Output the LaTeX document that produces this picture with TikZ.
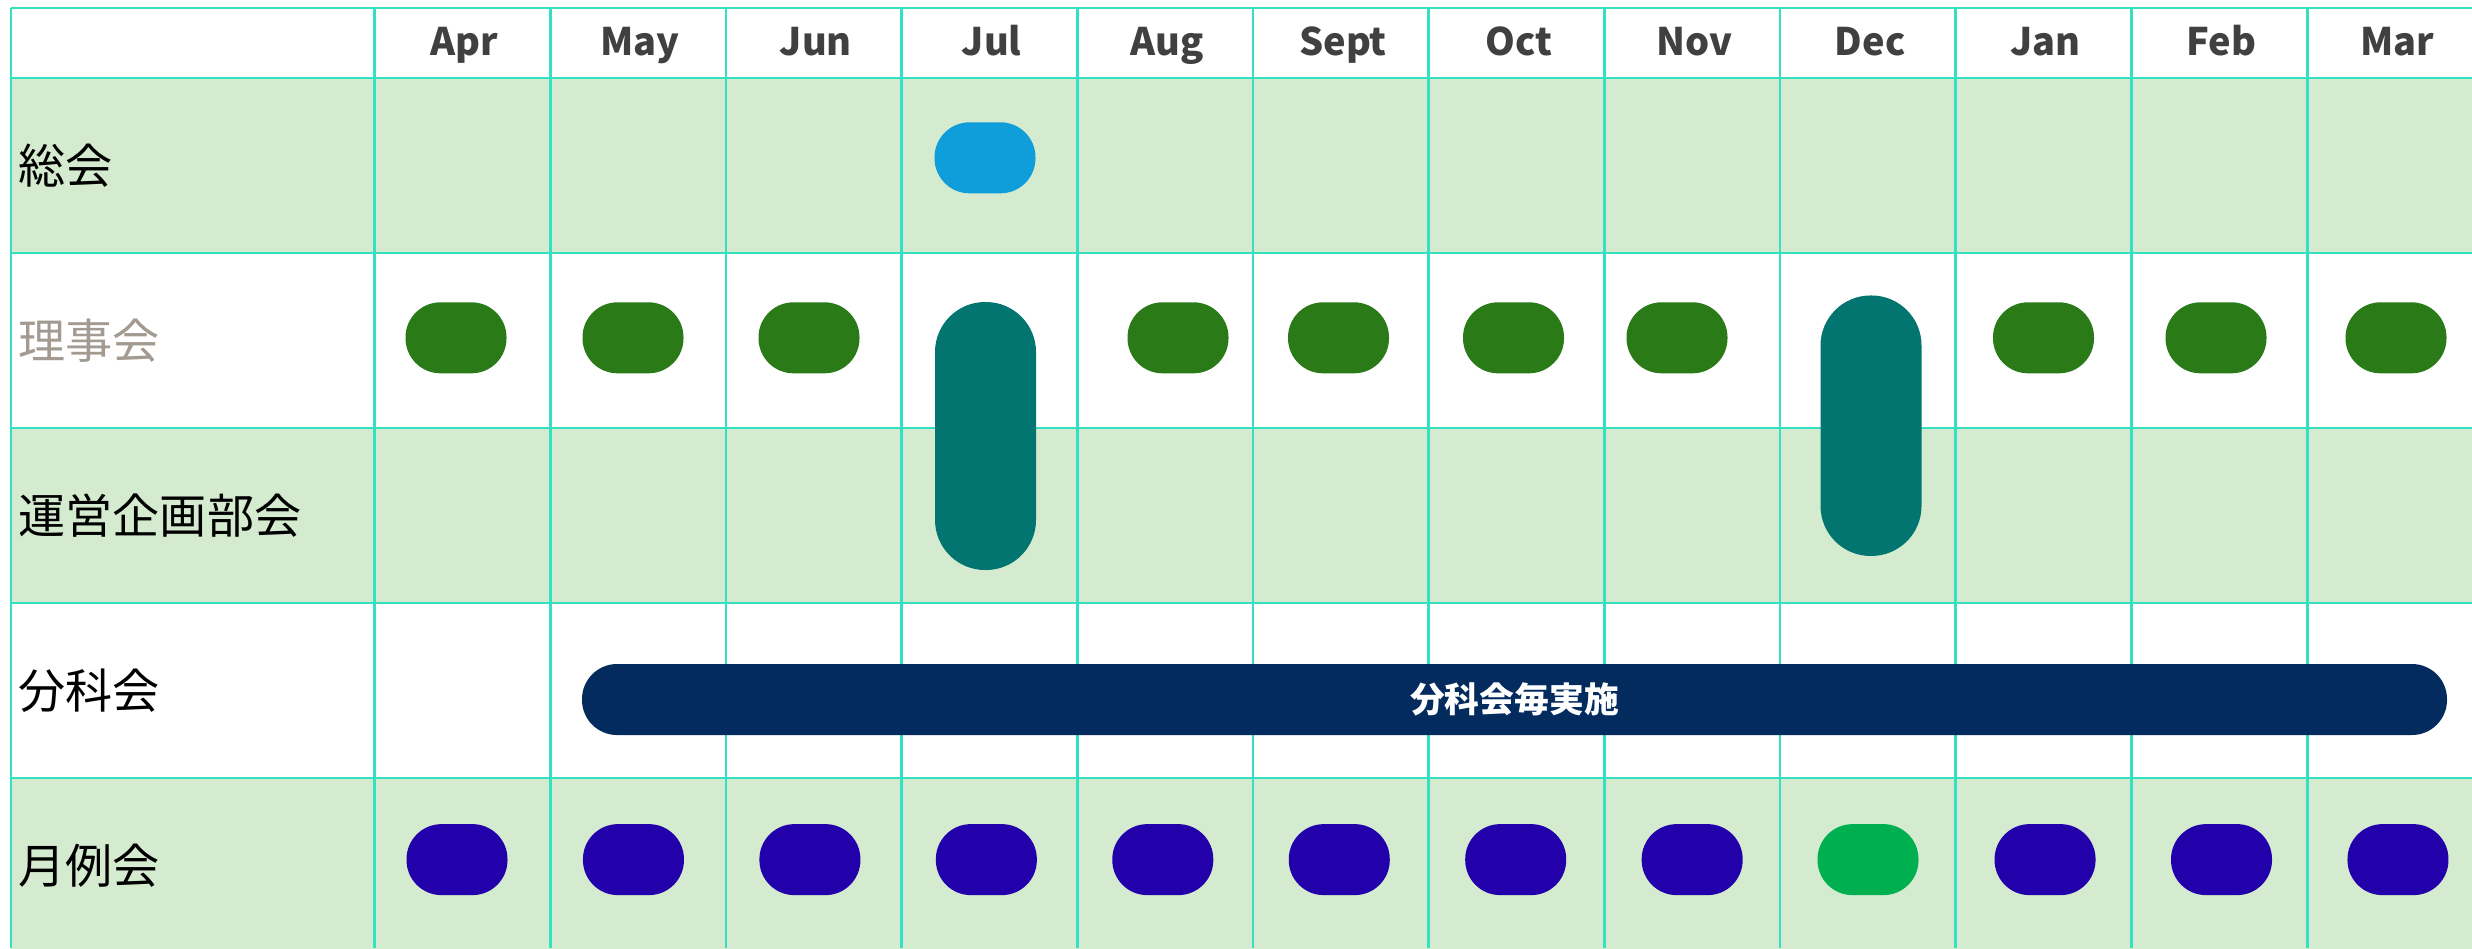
\documentclass[tikz,border=0pt]{standalone}
\usepackage{fontspec}
\setmainfont{Noto Sans CJK JP}
\definecolor{gridline}{HTML}{33E0C2}
\definecolor{rowgreen}{HTML}{D5EBD0}
\definecolor{monthgray}{HTML}{404040}
\definecolor{rijigray}{HTML}{A39A92}
\definecolor{sokaiblue}{HTML}{0F9ED9}
\definecolor{rijigreen}{HTML}{2A7A18}
\definecolor{uneiteal}{HTML}{037570}
\definecolor{bunkanavy}{HTML}{042B5E}
\definecolor{reikaiblue}{HTML}{2200AA}
\definecolor{reikaigreen}{HTML}{00AF50}
\begin{document}
\begin{tikzpicture}[x=0.1mm,y=-0.1mm,
  pill/.style={rounded corners=3.5mm,minimum width=10.1mm,minimum height=7.1mm,inner sep=0pt},
  tallpill/.style={rounded corners=5mm,minimum width=10.1mm,inner sep=0pt},
  rowlabel/.style={anchor=west,inner sep=0pt,font=\fontsize{13.4}{16}\selectfont},
  monthlabel/.style={anchor=base,inner sep=0pt,text=monthgray,font=\fontsize{10.8}{13}\selectfont\bfseries}]
\useasboundingbox (0,0) rectangle (2472,948);
\fill[white] (0,0) rectangle (2472,948);
\foreach \Y in {78,428,778}
\fill[rowgreen] (11,\Y) rectangle (2472,\Y+175);
\foreach \Y in {8,78,253,428,603,778}
\draw[gridline,line width=0.27mm] (11,\Y) -- (2472,\Y);
\draw[gridline,line width=0.27mm] (11,8) -- (11,948);
\foreach \X in {0,...,11}
\draw[gridline,line width=0.27mm] (374.5+175.7*\X,8) -- (374.5+175.7*\X,948);
\foreach \M [count=\i from 0] in {Apr,May,Jun,Jul,Aug,Sept,Oct,Nov,Dec,Jan,Feb,Mar}
\node[monthlabel] (m\M) at (464.5+175.7*\i,55) {\M};
\node[rowlabel] (sokai) at (18,165.5) {総会};
\node[rowlabel,text=rijigray] (rijikai) at (18,340.5) {理事会};
\node[rowlabel] (unei) at (18,515.5) {運営企画部会};
\node[rowlabel] (bunka) at (18,690.5) {分科会};
\node[rowlabel] (reikai) at (18,865.5) {月例会};
\node[pill,fill=sokaiblue] (sokai-jul) at (985,157.8) {};
\foreach \X [count=\i] in {456,633,809,1178,1338.5,1513.5,1677,2043.5,2216,2396}
\node[pill,fill=rijigreen] (riji-\i) at (\X,337.8) {};
\node[tallpill,fill=uneiteal,minimum height=26.8mm] (unei-jul) at (985.5,436) {};
\node[tallpill,fill=uneiteal,minimum height=26.05mm] (unei-dec) at (1871,425.7) {};
\node[pill,fill=bunkanavy,minimum width=186.5mm,text=white,font=\fontsize{9.9}{12}\selectfont\bfseries] (bunka-bar) at (1514.5,699.5) {分科会毎実施};
\foreach \i in {0,...,7,9,10,11}
\node[pill,fill=reikaiblue] (reikai-\i) at (457+176.45*\i,859.6) {};
\node[pill,fill=reikaigreen] (reikai-8) at (1868,859.6) {};
\end{tikzpicture}
\end{document}
